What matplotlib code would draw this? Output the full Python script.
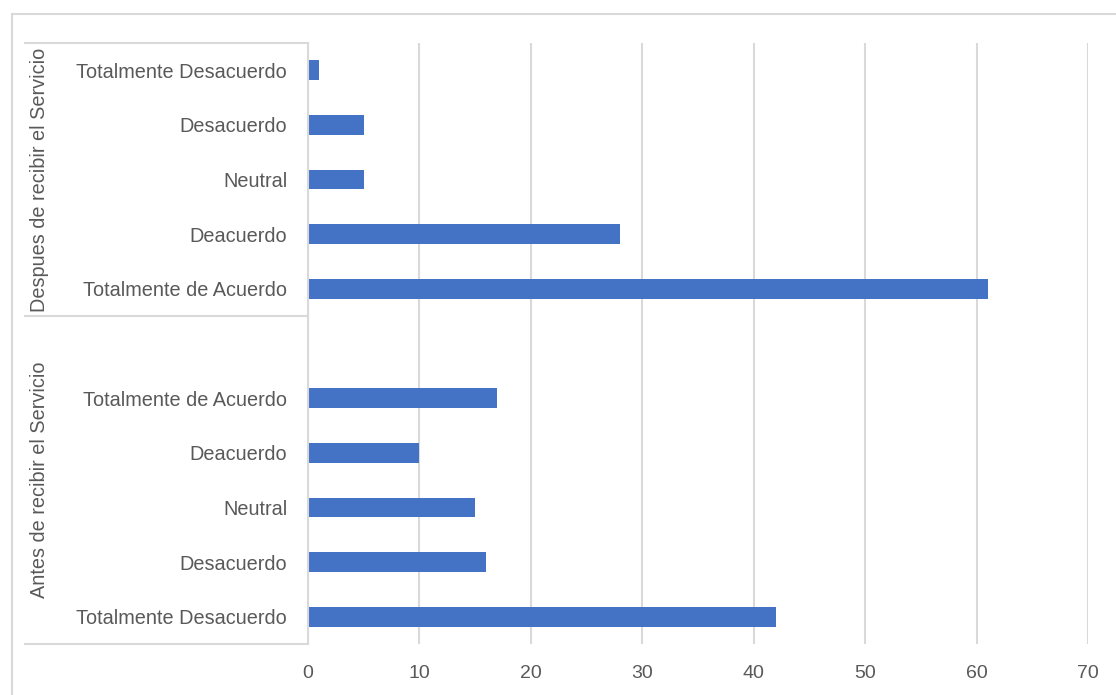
import matplotlib.pyplot as plt
from matplotlib.lines import Line2D
from matplotlib import font_manager

# Survey answers before and after the service (counts)
antes_labels = ['Totalmente Desacuerdo', 'Desacuerdo', 'Neutral', 'Deacuerdo', 'Totalmente de Acuerdo']
antes_values = [42, 16, 15, 10, 17]
despues_labels = ['Totalmente de Acuerdo', 'Deacuerdo', 'Neutral', 'Desacuerdo', 'Totalmente Desacuerdo']
despues_values = [61, 28, 5, 5, 1]
group_names = ['Antes de recibir el Servicio', 'Despues de recibir el Servicio']
x_ticks = [0, 10, 20, 30, 40, 50, 60, 70]

names = {f.name for f in font_manager.fontManager.ttflist}
family = 'Liberation Sans Narrow' if 'Liberation Sans Narrow' in names else 'Liberation Sans'
plt.rcParams['font.family'] = [family, 'DejaVu Sans']

text_color = '#595959'
line_color = '#d9d9d9'
bar_color = '#4472c4'

W, H = 1116, 695
fig = plt.figure(figsize=(W / 100, H / 100), dpi=100)
ax = fig.add_axes([308 / W, 1 - 644 / H, 780 / W, 601 / H])

# bottom group uses slots 0-4, slot 5 is left blank, top group uses 6-10
antes_pos = list(range(len(antes_labels)))
despues_pos = [p + len(antes_labels) + 1 for p in range(len(despues_labels))]

ax.barh(antes_pos, antes_values, height=0.36, color=bar_color)
ax.barh(despues_pos, despues_values, height=0.36, color=bar_color)

ax.set_xlim(0, 70)
ax.set_ylim(-0.5, despues_pos[-1] + 0.5)
ax.set_xticks(x_ticks)
ax.set_yticks(antes_pos + despues_pos)
ax.set_yticklabels(antes_labels + despues_labels)
ax.tick_params(axis='y', length=0, pad=15, labelsize=14.3, labelcolor=text_color)
ax.tick_params(axis='x', length=0, pad=15, labelsize=14, labelcolor=text_color)

ax.grid(axis='x', color=line_color, linewidth=1.5)
ax.set_axisbelow(True)
for side in ['top', 'right', 'bottom']:
    ax.spines[side].set_visible(False)
ax.spines['left'].set_color(line_color)
ax.spines['left'].set_linewidth(1.5)

# category group brackets on the left
x0 = (25 - 308) / 780
trans = ax.get_yaxis_transform()
for yb in [-0.5, len(antes_labels) + 0.5, despues_pos[-1] + 0.5]:
    ax.add_line(Line2D([x0, 0], [yb, yb], transform=trans, color=line_color,
                       linewidth=1.5, clip_on=False))

ax.text(40 / W, 1 - 480 / H, group_names[0], transform=fig.transFigure, rotation=90,
        ha='center', va='center', fontsize=14.3, color=text_color)
ax.text(40 / W, 1 - 180 / H, group_names[1], transform=fig.transFigure, rotation=90,
        ha='center', va='center', fontsize=14.3, color=text_color)

# chart area border
fig.add_artist(Line2D([12 / W, 1], [1 - 14 / H, 1 - 14 / H], transform=fig.transFigure,
                      color=line_color, linewidth=1.5))
fig.add_artist(Line2D([12 / W, 12 / W], [0, 1 - 14 / H], transform=fig.transFigure,
                      color=line_color, linewidth=1.5))

fig.savefig('out.png', dpi=100)
